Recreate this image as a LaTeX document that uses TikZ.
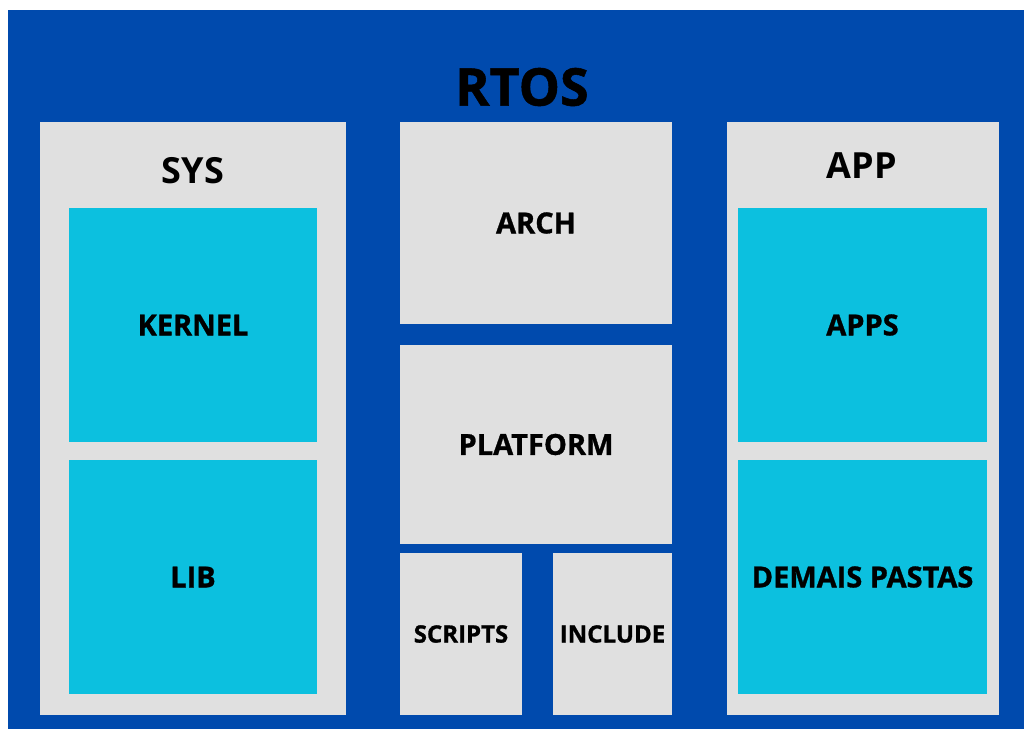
\documentclass[tikz,border=0pt]{standalone}
\usepackage{fontspec}
\setmainfont{Open Sans}
\newfontfamily\xbold{Open Sans}[BoldFeatures={FakeBold=1}]
\definecolor{bgblue}{HTML}{004AAD}
\definecolor{boxgray}{HTML}{E0E0E0}
\definecolor{boxcyan}{HTML}{0CC0DF}
\begin{document}
\begin{tikzpicture}[x=1pt,y=-1pt,
  box/.style={inner sep=0pt,outer sep=0pt,draw=none},
  graybox/.style={box,fill=boxgray},
  cyanbox/.style={box,fill=boxcyan},
  title/.style={inner sep=0pt,font=\bfseries\fontsize{36}{40}\selectfont},
  lbl/.style={font=\xbold\bfseries\fontsize{29}{32}\selectfont},
  slbl/.style={font=\xbold\bfseries\fontsize{24}{28}\selectfont}]
\useasboundingbox (0,0) rectangle (1024,729);
\fill[bgblue] (8,10) rectangle (1024,729);
\node[inner sep=0pt,font=\xbold\bfseries\fontsize{52}{56}\selectfont] (rtos) at (522,87) {RTOS};
% SYS column
\node[graybox,minimum width=306pt,minimum height=593pt] (sys) at (193,418.5) {};
\node[title] (systitle) at (193,171) {SYS};
\node[cyanbox,minimum width=248pt,minimum height=234pt,lbl] (kernel) at (193,325) {KERNEL};
\node[cyanbox,minimum width=248pt,minimum height=234pt,lbl] (lib) at (193,577) {LIB};
% middle column
\node[graybox,minimum width=272pt,minimum height=202pt,lbl] (arch) at (536,223) {ARCH};
\node[graybox,minimum width=272pt,minimum height=199pt,lbl] (platform) at (536,444.5) {PLATFORM};
\node[graybox,minimum width=122pt,minimum height=162pt,slbl] (scripts) at (461,634) {SCRIPTS};
\node[graybox,minimum width=119pt,minimum height=162pt,slbl] (include) at (612.5,634) {INCLUDE};
% APP column
\node[graybox,minimum width=272pt,minimum height=593pt] (app) at (863,418.5) {};
\node[title] (apptitle) at (862,166) {APP};
\node[cyanbox,minimum width=249pt,minimum height=234pt,lbl] (apps) at (862.5,325) {APPS};
\node[cyanbox,minimum width=249pt,minimum height=234pt,lbl] (demais) at (862.5,577) {DEMAIS PASTAS};
\end{tikzpicture}
\end{document}
